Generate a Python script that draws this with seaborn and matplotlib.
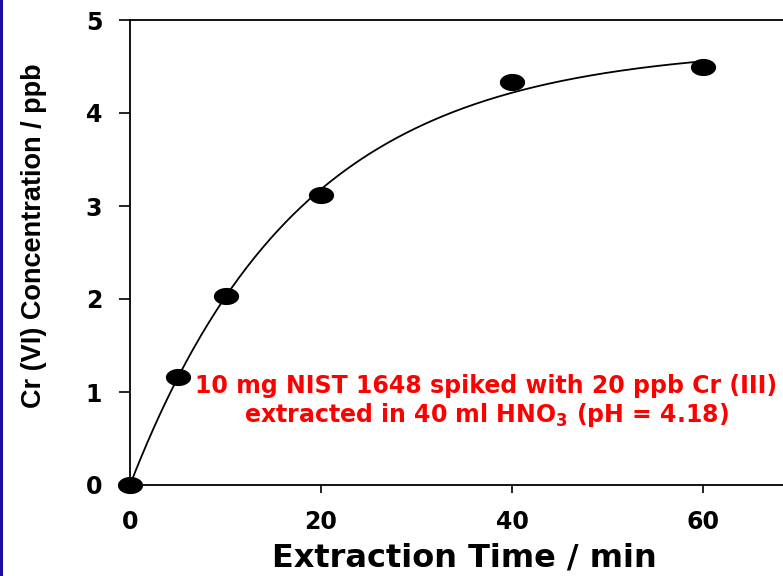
import numpy as np
import pandas as pd
import matplotlib
matplotlib.use("Agg")
import matplotlib.pyplot as plt
from matplotlib.path import Path
from matplotlib.patches import Rectangle
import seaborn as sns

# Measured Cr(VI) concentration over extraction time
time_min = [0, 5, 10, 20, 40, 60]
conc_ppb = [0.0, 1.16, 2.03, 3.12, 4.33, 4.49]

x_ticks = [0, 20, 40, 60]
y_ticks = [0, 1, 2, 3, 4, 5]

df = pd.DataFrame({"time": time_min, "conc": conc_ppb})

# First-order extraction fit: c = a * (1 - exp(-k t)), least squares over k
t = np.asarray(time_min, float)
c = np.asarray(conc_ppb, float)
best = None
for k in np.linspace(0.01, 0.3, 2901):
    g = 1 - np.exp(-k * t)
    a = (g @ c) / (g @ g)
    sse = np.sum((c - a * g) ** 2)
    if best is None or sse < best[0]:
        best = (sse, a, k)
_, a_fit, k_fit = best
t_fit = np.linspace(0, 60, 300)
fit_df = pd.DataFrame({"time": t_fit, "conc": a_fit * (1 - np.exp(-k_fit * t_fit))})

sns.set_theme(style="white")
plt.rcParams["font.family"] = ["DejaVu Sans"]
plt.rcParams["mathtext.fontset"] = "dejavusans"
for key in ["text.color", "axes.labelcolor", "xtick.color", "ytick.color"]:
    plt.rcParams[key] = "black"

fig = plt.figure(figsize=(7.83, 5.76), dpi=100)
fig.patch.set_facecolor("white")
ax = fig.add_axes([130 / 783, 91 / 576, 668.5 / 783, 465 / 576])
ax.set_facecolor("white")

sns.lineplot(data=fit_df, x="time", y="conc", ax=ax, color="black", lw=1.3,
             zorder=2)

# Elliptical filled marker
th = np.linspace(0, 2 * np.pi, 60)
ellipse = Path(np.column_stack([np.cos(th), 0.68 * np.sin(th)]), closed=True)
sns.scatterplot(data=df, x="time", y="conc", ax=ax, marker=ellipse, s=330,
                color="black", edgecolor="black", linewidth=0, zorder=3,
                clip_on=False)

ax.set_xlim(0, 70)
ax.set_ylim(0, 5)
ax.set_xticks(x_ticks)
ax.set_yticks(y_ticks)
ax.set_xticklabels([str(v) for v in x_ticks], fontsize=17, fontweight="bold")
ax.set_yticklabels([str(v) for v in y_ticks], fontsize=17, fontweight="bold")
ax.tick_params(axis="y", direction="out", length=8, width=1.2,
               color="black", left=True, pad=12)
ax.tick_params(axis="x", direction="out", length=6, width=1.2,
               color="black", bottom=True, pad=12)

for side in ["left", "top", "bottom", "right"]:
    ax.spines[side].set_visible(True)
    ax.spines[side].set_color("black")
    ax.spines[side].set_linewidth(1.3)

ax.set_xlabel("")
ax.set_ylabel("Cr (VI) Concentration / ppb", fontsize=19.5, fontweight="bold",
              family=["Liberation Sans", "DejaVu Sans"], color="black",
              va="center")
ax.yaxis.set_label_coords(-96 / 668.5, 1 - (236 - 20) / 465)

fig.text(464 / 783, 1 - 567 / 576, "Extraction Time / min",
         fontsize=23, fontweight="bold", color="black",
         ha="center", va="baseline")

fig.text(486 / 783, 1 - 393 / 576,
         "10 mg NIST 1648 spiked with 20 ppb Cr (III)",
         color="#ff0000", fontsize=17, fontweight="bold",
         ha="center", va="baseline")
fig.text(486 / 783, 1 - 422 / 576,
         r"extracted in 40 ml HNO$_\mathbf{3}$ (pH = 4.18)",
         color="#ff0000", fontsize=17, fontweight="bold",
         ha="center", va="baseline")

# Dark blue strip along the left edge of the slide
fig.add_artist(Rectangle((0, 0), 2.5 / 783, 1, transform=fig.transFigure,
                         facecolor="#1a0ca0", edgecolor="none"))

fig.savefig("out.png", dpi=100)
